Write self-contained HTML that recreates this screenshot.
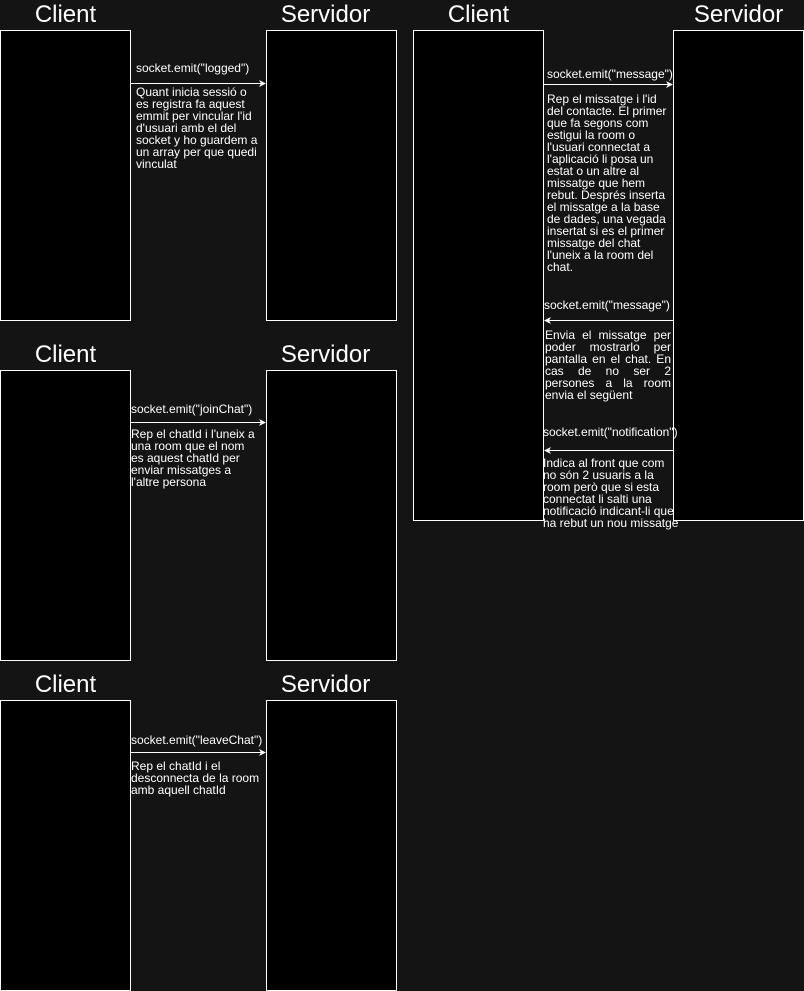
<!DOCTYPE html>
<html><head><meta charset="utf-8"><style>
body{margin:0;width:804px;height:991px;background:#141414;position:relative;overflow:hidden;font-family:"Liberation Sans",sans-serif;color:#fff}
.b{position:absolute;background:#000;border:1px solid #fff;box-sizing:border-box;width:131px}
.h{position:absolute;font-size:24px;width:131px;text-align:center;line-height:26px}
.t{position:absolute;font-size:12px;line-height:12px;white-space:nowrap}
.jl{text-align:justify;text-align-last:justify;width:126px;white-space:normal}
svg{position:absolute;left:0;top:0}
</style></head><body>
<div class="h" style="left:0;top:2px">Client</div>
<div class="h" style="left:260px;top:2px">Servidor</div>
<div class="h" style="left:413px;top:2px">Client</div>
<div class="h" style="left:673px;top:2px">Servidor</div>
<div class="h" style="left:0;top:342px">Client</div>
<div class="h" style="left:260px;top:342px">Servidor</div>
<div class="h" style="left:0;top:672px">Client</div>
<div class="h" style="left:260px;top:672px">Servidor</div>

<div class="b" style="left:0;top:30px;height:291px"></div>
<div class="b" style="left:266px;top:30px;height:291px"></div>
<div class="b" style="left:0;top:370px;height:291px"></div>
<div class="b" style="left:266px;top:370px;height:291px"></div>
<div class="b" style="left:0;top:700px;height:291px"></div>
<div class="b" style="left:266px;top:700px;height:291px"></div>
<div class="b" style="left:413px;top:30px;height:491px"></div>
<div class="b" style="left:673px;top:30px;height:491px"></div>

<svg width="804" height="991">
<g stroke="#fff" stroke-width="1">
<line x1="131" y1="83.5" x2="262" y2="83.5"/>
<line x1="131" y1="422.5" x2="262" y2="422.5"/>
<line x1="131" y1="752.5" x2="262" y2="752.5"/>
<line x1="544" y1="84.5" x2="669" y2="84.5"/>
<line x1="548" y1="320.5" x2="673" y2="320.5"/>
<line x1="548" y1="450.5" x2="673" y2="450.5"/>
</g>
<g fill="#fff">
<path d="M266 83.5 L259 80 L261 83.5 L259 87Z"/>
<path d="M266 422.5 L259 419 L261 422.5 L259 426Z"/>
<path d="M266 752.5 L259 749 L261 752.5 L259 756Z"/>
<path d="M673 84.5 L666 81 L668 84.5 L666 88Z"/>
<path d="M544 320.5 L551 317 L549 320.5 L551 324Z"/>
<path d="M544 450.5 L551 447 L549 450.5 L551 454Z"/>
</g>
</svg>

<div class="t" style="left:136px;top:62px">socket.emit("logged")</div>
<div class="t" style="left:136px;top:86px">Quant inicia sessió o<br>es registra fa aquest<br>emmit per vincular l'id<br>d'usuari amb el del<br>socket y ho guardem a<br>un array per que quedi<br>vinculat</div>

<div class="t" style="left:131px;top:403px">socket.emit("joinChat")</div>
<div class="t" style="left:131px;top:428px">Rep el chatId i l'uneix a<br>una room que el nom<br>es aquest chatId per<br>enviar missatges a<br>l'altre persona</div>

<div class="t" style="left:131px;top:734px">socket.emit("leaveChat")</div>
<div class="t" style="left:131px;top:760px">Rep el chatId i el<br>desconnecta de la room<br>amb aquell chatId</div>

<div class="t" style="left:547px;top:68px">socket.emit("message")</div>
<div class="t" style="left:547px;top:93px">Rep el missatge i l'id<br>del contacte. El primer<br>que fa segons com<br>estigui la room o<br>l'usuari connectat a<br>l'aplicació li posa un<br>estat o un altre al<br>missatge que hem<br>rebut. Després inserta<br>el missatge a la base<br>de dades, una vegada<br>insertat si es el primer<br>missatge del chat<br>l'uneix a la room del<br>chat.</div>

<div class="t" style="left:544px;top:299px">socket.emit("message")</div>
<div class="t" style="left:545px;top:329px">
<div class="jl">Envia el missatge per</div>
<div class="jl">poder mostrarlo per</div>
<div class="jl">pantalla en el chat. En</div>
<div class="jl">cas de no ser 2</div>
<div class="jl">persones a la room</div>
<div>envia el següent</div>
</div>

<div class="t" style="left:543px;top:426px">socket.emit("notification")</div>
<div class="t" style="left:543px;top:457px">Indica al front que com<br>no són 2 usuaris a la<br>room però que si esta<br>connectat li salti una<br>notificació indicant-li que<br>ha rebut un nou missatge</div>
</body></html>
